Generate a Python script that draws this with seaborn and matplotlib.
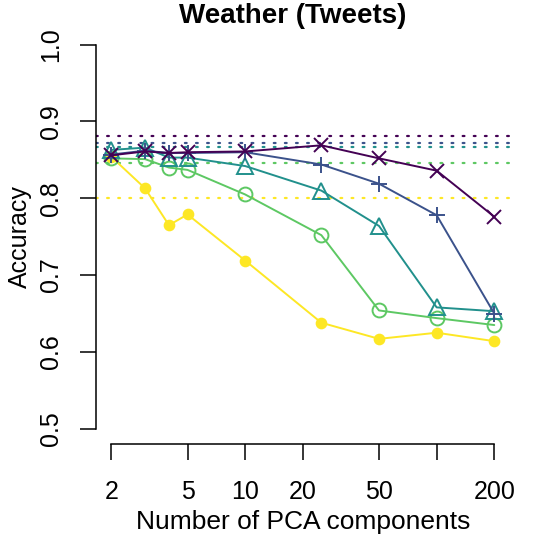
import matplotlib
matplotlib.use("Agg")
import matplotlib.pyplot as plt
import seaborn as sns
import pandas as pd
import numpy as np

# number of PCA components on the x axis
components = [2, 3, 4, 5, 10, 25, 50, 100, 200]

# accuracy per series (viridis order, darkest first)
acc_purple = [0.856, 0.861, 0.859, 0.860, 0.861, 0.869, 0.852, 0.836, 0.776]
acc_blue = [0.857, 0.862, 0.859, 0.859, 0.860, 0.844, 0.819, 0.778, 0.650]
acc_teal = [0.863, 0.866, 0.853, 0.853, 0.842, 0.810, 0.764, 0.658, 0.653]
acc_green = [0.852, 0.851, 0.840, 0.837, 0.805, 0.752, 0.654, 0.644, 0.635]
acc_yellow = [0.854, 0.813, 0.765, 0.779, 0.719, 0.638, 0.617, 0.625, 0.614]

# full-dimension reference accuracies (dotted lines)
baseline = [0.881, 0.872, 0.867, 0.846, 0.801]

xtick_values = [2, 5, 10, 20, 50, 100, 200]
xtick_labels = ['2', '5', '10', '20', '50', '', '200']
ytick_values = [0.5, 0.6, 0.7, 0.8, 0.9, 1.0]

series = [acc_purple, acc_blue, acc_teal, acc_green, acc_yellow]
colors = ['#440154', '#3B528B', '#21908C', '#5DC863', '#FDE725']
markers = ['x', '+', '^', 'o', 'o']
sizes = [9.5, 12, 11, 10, 7]
filled = [True, True, False, False, True]

sns.set_style('ticks')
plt.rcParams['font.family'] = ['Liberation Sans', 'DejaVu Sans']
plt.rcParams.update({'text.color': 'black', 'axes.labelcolor': 'black',
                     'xtick.color': 'black', 'ytick.color': 'black'})

fig = plt.figure(figsize=(5.4, 5.4), dpi=100)
ax = fig.add_axes([0.1778, 0.1776, 0.9437 - 0.1778, 0.9457 - 0.1776])

for i, (vals, c) in enumerate(zip(series, colors)):
    df = pd.DataFrame({'components': components, 'accuracy': vals})
    kw = dict(markerfacecolor=c if filled[i] else 'none',
              markeredgecolor=c)
    sns.lineplot(data=df, x='components', y='accuracy', ax=ax, color=c,
                 marker=markers[i], markersize=sizes[i], markeredgewidth=1.4,
                 lw=1.4, zorder=10 - i, **kw)
    ax.axhline(baseline[i], color=c, lw=1.6, linestyle=(0, (0.8, 4.2)),
               dash_capstyle='round', zorder=2)

ax.set_xscale('log')
lo, hi = np.log10(2), np.log10(200)
pad = 0.04 * (hi - lo)
ax.set_xlim(10 ** (lo - pad), 10 ** (hi + pad))
ax.set_ylim(0.48, 1.02)

ax.set_xticks(xtick_values)
ax.set_xticklabels(xtick_labels)
ax.xaxis.set_minor_locator(matplotlib.ticker.NullLocator())
ax.set_yticks(ytick_values)
ax.set_yticklabels([f'{v:.1f}' for v in ytick_values], rotation=90, va='center')

for side in ['top', 'right']:
    ax.spines[side].set_visible(False)
ax.spines['left'].set_bounds(0.5, 1.0)
ax.spines['bottom'].set_bounds(2, 200)
for side in ['left', 'bottom']:
    ax.spines[side].set_linewidth(1.1)
    ax.spines[side].set_color('black')

ax.tick_params(axis='both', length=11.5, width=1.1, color='black',
               labelcolor='black', labelsize=18, pad=14)
ax.tick_params(axis='y', pad=12)

ax.set_xlabel('Number of PCA components', fontsize=19, labelpad=5)
ax.set_ylabel('Accuracy', fontsize=18, labelpad=5)
fig.text(293 / 540, 1 - 16 / 540, 'Weather (Tweets)', fontsize=20,
         fontweight='bold', ha='center', va='center', color='black')

fig.savefig('out.png', dpi=100)
